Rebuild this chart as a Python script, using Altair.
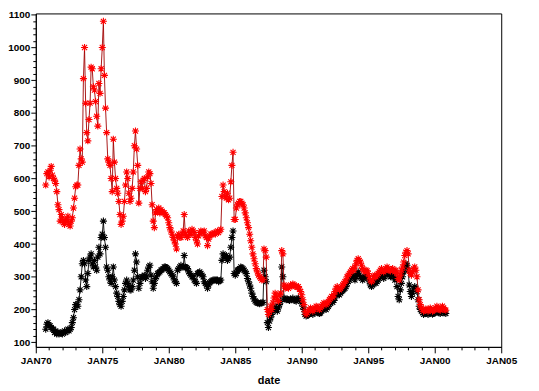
import altair as alt
import pandas as pd

# monthly observations starting October 1970
start_month = "1970-10-01"

red_values = [
    580, 615, 620,
    605, 625, 637, 610, 600, 595, 585, 560, 520, 505, 470, 490,
    480, 465, 460, 475, 470, 485, 460, 455, 470, 480, 510, 540,
    575, 580, 580, 640, 690, 660, 650, 905, 1000, 830, 740, 715,
    780, 830, 940, 935, 880, 870, 835, 790, 760, 890, 860, 935,
    1000, 1080, 915, 815, 740, 660, 650, 640, 600, 560, 720, 650,
    600, 570, 555, 530, 490, 460, 470, 485, 530, 580, 620, 600,
    555, 530, 540, 570, 620, 700, 745, 690, 640, 525, 570, 590,
    570, 595, 600, 560, 570, 605, 620, 615, 585, 520, 470, 450,
    495, 505, 500, 510, 495, 505, 500, 495, 495, 490, 485, 480,
    465, 450, 440, 430, 420, 410, 400, 385, 425, 430, 420, 420,
    430, 440, 490, 430, 425, 420, 440, 430, 430, 445, 440, 435,
    420, 410, 400, 425, 435, 440, 435, 435, 440, 425, 420, 395,
    415, 425, 430, 430, 430, 435, 430, 435, 440, 435, 440, 445,
    545, 580, 560, 545, 540, 555, 535, 540, 590, 640, 680, 475,
    475, 510, 520, 525, 530, 530, 525, 520, 510, 495, 480, 465,
    450, 430, 410, 390, 370, 355, 340, 325, 315, 305, 300, 295,
    290, 292, 385, 380, 360, 200, 185, 195, 210, 200, 220, 235,
    250, 240, 230, 225, 245, 250, 380, 370, 275, 265, 268, 270,
    265, 270, 275, 272, 278, 275, 270, 272, 268, 270, 262, 255,
    245, 230, 215, 195, 185, 190, 195, 200, 205, 200, 195, 200,
    205, 210, 208, 205, 200, 205, 210, 215, 220, 218, 215, 220,
    225, 230, 235, 240, 238, 245, 255, 265, 270, 265, 260, 265,
    270, 275, 280, 285, 290, 300, 305, 310, 315, 320, 325, 320,
    330, 340, 350, 355, 350, 345, 335, 325, 320, 315, 320, 318,
    310, 300, 290, 285, 290, 300, 305, 300, 305, 310, 315, 320,
    325, 320, 315, 320, 325, 330, 325, 320, 318, 322, 325, 320,
    315, 320, 310, 295, 290, 305, 320, 330, 345, 365, 375, 380,
    370, 320, 310, 305, 315, 325, 330, 320, 300, 260, 230, 215,
    205, 200, 195, 198, 202, 200, 195, 198, 205, 200, 195, 198,
    200, 205, 210, 205, 200, 198, 205, 210, 205, 200, 198,
]

black_values = [
    140, 155, 160,
    150, 150, 145, 140, 140, 130, 135, 125, 130, 125, 130, 128,
    125, 130, 135, 130, 135, 140, 135, 140, 145, 160, 175, 200,
    215, 215, 210, 230, 260, 300, 340, 350, 340, 290, 270, 310,
    350, 360, 370, 340, 330, 350, 330, 320, 360, 390, 370, 420,
    430, 470, 420, 390, 330, 320, 300, 290, 280, 300, 330, 290,
    270, 250, 240, 225, 215, 210, 225, 240, 260, 280, 290, 280,
    270, 260, 260, 270, 290, 320, 370, 345, 300, 265, 280, 295,
    300, 300, 305, 295, 300, 320, 330, 335, 305, 285, 265, 280,
    295, 300, 310, 312, 315, 320, 322, 325, 330, 330, 328, 325,
    320, 315, 310, 305, 300, 290, 285, 280, 320, 325, 330, 335,
    330, 330, 365, 330, 328, 325, 315, 310, 305, 300, 300, 290,
    285, 280, 310, 312, 315, 310, 305, 300, 285, 280, 275, 265,
    275, 282, 285, 288, 290, 290, 290, 290, 290, 285, 288, 290,
    350, 370, 360, 362, 365, 350, 355, 360, 390, 420, 440, 310,
    305, 310, 320, 322, 325, 330, 328, 325, 320, 315, 310, 295,
    285, 275, 265, 250, 240, 232, 226, 222, 220, 220, 218, 220,
    220, 222, 320, 300, 285, 160, 145, 165, 175, 185, 195, 200,
    210, 200, 195, 205, 215, 225, 330, 300, 235, 232, 230, 232,
    230, 228, 232, 230, 235, 230, 228, 225, 232, 235, 230, 225,
    220, 210, 200, 185, 180, 182, 185, 188, 190, 188, 185, 190,
    192, 195, 193, 190, 188, 190, 195, 200, 205, 202, 200, 205,
    210, 215, 220, 225, 222, 228, 235, 245, 250, 248, 245, 250,
    255, 258, 262, 265, 270, 280, 285, 290, 295, 300, 305, 300,
    290, 300, 310, 315, 305, 300, 295, 290, 295, 300, 305, 300,
    295, 285, 275, 270, 275, 280, 285, 280, 285, 290, 295, 300,
    305, 300, 295, 300, 310, 315, 312, 305, 300, 305, 310, 300,
    290, 295, 270, 240, 230, 260, 280, 300, 315, 330, 340, 335,
    320, 275, 255, 240, 250, 265, 270, 265, 255, 230, 210, 200,
    195, 190, 185, 188, 190, 188, 185, 187, 192, 190, 186, 188,
    190, 195, 198, 195, 190, 188, 192, 198, 195, 190, 188,
]

x_tick_years = list(range(1970, 2006))
y_tick_values = list(range(100, 1101, 20))

n = min(len(red_values), len(black_values))
dates = pd.date_range(start_month, periods=n, freq="MS")
df_black = pd.DataFrame({"date": dates, "value": black_values[:n]})
df_red = pd.DataFrame({"date": dates, "value": red_values[:n]})

STAR = "M0,-1L0,1M-1,0L1,0M-0.72,-0.72L0.72,0.72M-0.72,0.72L0.72,-0.72"
FONT = "Liberation Sans"

X = alt.X(
    "date:T",
    scale=alt.Scale(
        domain=[alt.DateTime(year=1970, month=1, date=1), alt.DateTime(year=2005, month=1, date=1)],
        nice=False,
    ),
    axis=alt.Axis(
        title="date",
        values=[alt.DateTime(year=y, month=1, date=1) for y in x_tick_years],
        labelExpr="year(datum.value) % 5 == 0 ? 'JAN' + timeFormat(datum.value, '%y') : ''",
        tickSize={"condition": {"test": "year(datum.value) % 5 == 0", "value": 6}, "value": 3},
        labelOverlap=False,
        labelFlush=False,
        grid=False,
        labelPadding=3,
        titlePadding=9,
    ),
)
Y = alt.Y(
    "value:Q",
    scale=alt.Scale(domain=[86, 1104], nice=False, zero=False),
    axis=alt.Axis(
        title="",
        values=y_tick_values,
        format="d",
        labelExpr="datum.value % 100 == 0 ? datum.label : ''",
        tickSize={"condition": {"test": "datum.value % 100 == 0", "value": 5}, "value": 3},
        labelOverlap=False,
        labelFlush=False,
        grid=False,
        labelPadding=1,
    ),
)

line_b = alt.Chart(df_black).mark_line(color="black", strokeWidth=0.9).encode(x=X, y=Y)
pts_b = alt.Chart(df_black).mark_point(
    shape=STAR, filled=False, size=50, strokeWidth=1.1, color="black", opacity=1
).encode(x=X, y=Y)
line_r = alt.Chart(df_red).mark_line(color="#a00000", strokeWidth=0.9).encode(x=X, y=Y)
pts_r = alt.Chart(df_red).mark_point(
    shape=STAR, filled=False, size=50, strokeWidth=1.1, color="#ff0000", opacity=1
).encode(x=X, y=Y)

chart = (
    alt.layer(line_b, pts_b, line_r, pts_r)
    .properties(
        width=469,
        height=336,
        autosize=alt.AutoSizeParams(type="none"),
        padding={"left": 28, "top": 4, "right": 30, "bottom": 45},
    )
    .configure_view(stroke="black", strokeWidth=1)
    .configure_axis(
        domainColor="black",
        tickColor="black",
        labelColor="black",
        titleColor="black",
        labelFont=FONT,
        labelFontSize=10,
        labelFontWeight="bold",
        titleFont=FONT,
        titleFontSize=11,
        titleFontWeight="bold",
    )
)

chart.save("out.html", embed_options={"renderer": "svg", "actions": False})
